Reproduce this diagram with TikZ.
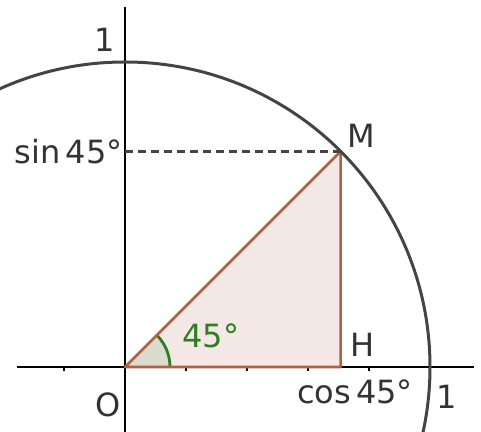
\documentclass[tikz,border=0pt]{standalone}
\usepackage{fontspec}
\setmainfont{DejaVu Sans}
\usetikzlibrary{positioning}
\definecolor{circlegray}{HTML}{444444}
\definecolor{triedge}{HTML}{B0623F}
\definecolor{trifill}{HTML}{F3E8E6}
\definecolor{anglegreen}{HTML}{2E7D1E}
\definecolor{anglefill}{HTML}{D9DCCF}
\definecolor{labelgray}{HTML}{333333}
\tikzset{
  axisline/.style={black, line width=0.6pt},
  lbl/.style={font=\fontsize{16}{16}\selectfont, text=labelgray, inner sep=0pt},
}
\begin{document}
\begin{tikzpicture}[x=0.5pt, y=0.5pt]
    \useasboundingbox (-125,-65) rectangle (356,367);
    \clip (-125,-65) rectangle (356,367);

    % points
    \coordinate (O) at (0,0);
    \coordinate (M) at (45:305);
    \coordinate (H) at (M |- O);
    \coordinate (S) at (O |- M);

    % triangle and angle
    \fill[trifill] (O) -- (H) -- (M) -- cycle;
    \fill[anglefill] (O) -- (0:45) arc (0:45:45) -- cycle;

    % axes with ticks
    \draw[axisline] (-108,0) -- (349,0);
    \draw[axisline] (0,-65) -- (0,360);
    \foreach \k in {-1,1,2,3,4,5} {
        \draw[axisline] (\k*61,0) -- (\k*61,-4);
    }

    \draw[anglegreen, line width=1.4pt] (0:45) arc (0:45:45);
    \draw[triedge, line width=1.3pt, line join=round] (O) -- (H) -- (M) -- cycle;
    \draw[circlegray, line width=1.2pt, dash pattern=on 4pt off 2.5pt] (S) -- (M);

    % unit circle
    \draw[circlegray, line width=1.5pt] (O) circle (305);

    % labels
    \node[lbl] (one top) at (-20,327) {1};
    \node[lbl, anchor=east] (sin lbl) at (-2,215) {sin\,45°};
    \node[lbl] (M lbl) at (236,231) {M};
    \node[lbl] (H lbl) at (238,22) {H};
    \node[lbl] (cos lbl) at (230,-25) {cos\,45°};
    \node[lbl] (one right) at (322,-30) {1};
    \node[lbl] (O lbl) at (-17,-38) {O};
    \node[lbl, text=anglegreen] (angle lbl) at (86,31) {45°};
\end{tikzpicture}
\end{document}
